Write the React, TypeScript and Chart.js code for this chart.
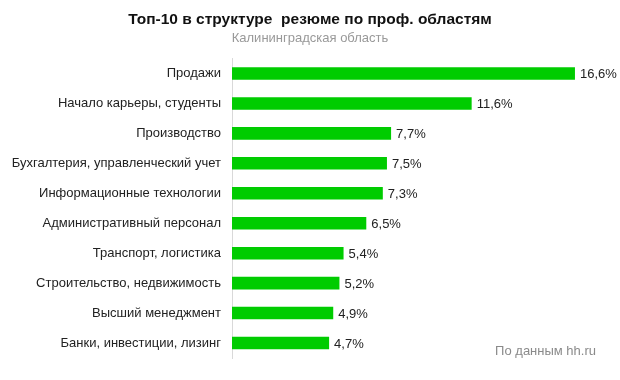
import React, { useEffect, useRef } from "react";
import { Chart, registerables } from "chart.js";

Chart.register(...registerables);

const categories = [
  "Продажи",
  "Начало карьеры, студенты",
  "Производство",
  "Бухгалтерия, управленческий учет",
  "Информационные технологии",
  "Административный персонал",
  "Транспорт, логистика",
  "Строительство, недвижимость",
  "Высший менеджмент",
  "Банки, инвестиции, лизинг",
];
const values = [16.6, 11.6, 7.7, 7.5, 7.3, 6.5, 5.4, 5.2, 4.9, 4.7];
const valueLabels = ["16,6%", "11,6%", "7,7%", "7,5%", "7,3%", "6,5%", "5,4%", "5,2%", "4,9%", "4,7%"];
const titleText = "Топ-10 в структуре  резюме по проф. областям";
const subtitleText = "Калининградская область";
const sourceText = "По данным hh.ru";

const FONT = "'Liberation Sans', Arial, sans-serif";

const extrasPlugin = {
  id: "extras",
  afterDatasetsDraw(chart: any) {
    const ctx = chart.ctx;
    const meta = chart.getDatasetMeta(0);
    ctx.save();
    ctx.font = `13px ${FONT}`;
    ctx.fillStyle = "#222";
    ctx.textAlign = "left";
    ctx.textBaseline = "middle";
    meta.data.forEach((bar: any, i: number) => {
      ctx.fillText(valueLabels[i], bar.x + 5, bar.y + 1);
    });
    ctx.font = `13px ${FONT}`;
    ctx.fillStyle = "#8a8a8a";
    ctx.textAlign = "right";
    ctx.fillText(sourceText, 596, 351);
    ctx.restore();
  },
};

export default function App() {
  const ref = useRef<HTMLCanvasElement>(null);
  useEffect(() => {
    document.body.style.margin = "0";
    const chart = new Chart(ref.current!, {
      type: "bar",
      data: {
        labels: categories,
        datasets: [
          {
            data: values,
            backgroundColor: "#00cc00",
            borderWidth: 0,
            barPercentage: 0.42,
            categoryPercentage: 1,
          },
        ],
      },
      options: {
        indexAxis: "y",
        animation: false,
        responsive: false,
        layout: { padding: { left: 0, right: 0, top: 0, bottom: 22 } },
        scales: {
          x: { display: false, min: 0, max: 18.78 },
          y: {
            grid: { display: false, drawTicks: false },
            border: { display: true, color: "#d9d9d9", width: 1 },
            ticks: { color: "#222", font: { family: FONT, size: 13 }, padding: 11 },
            afterFit(scale: any) {
              scale.width = 232;
            },
          },
        },
        plugins: {
          legend: { display: false },
          tooltip: { enabled: false },
          title: {
            display: true,
            text: titleText,
            color: "#111",
            font: { family: FONT, size: 15.5, weight: "bold", lineHeight: 1 },
            padding: { top: 12, bottom: 0 },
          },
          subtitle: {
            display: true,
            text: subtitleText,
            color: "#999",
            font: { family: FONT, size: 13, lineHeight: 1 },
            padding: { top: 4, bottom: 14 },
          },
        },
      },
      plugins: [extrasPlugin],
    });
    return () => chart.destroy();
  }, []);
  return <canvas ref={ref} width={620} height={380} style={{ display: "block" }} />;
}
